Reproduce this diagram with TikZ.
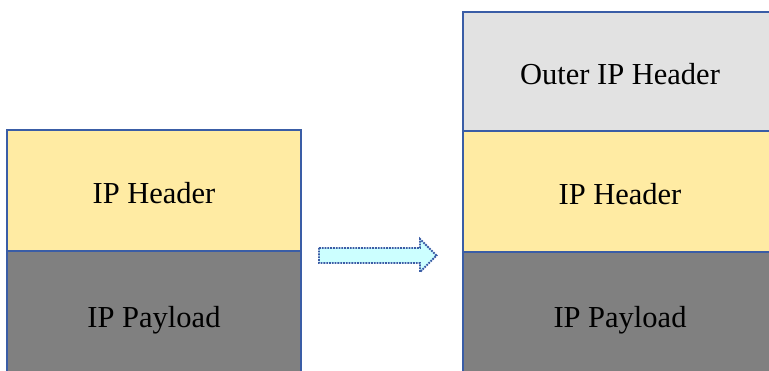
\documentclass[tikz,border=0pt]{standalone}
\usepackage{fontspec}
\setmainfont{Liberation Serif}
\definecolor{hdr}{HTML}{FFEBA3}
\definecolor{outer}{HTML}{E2E2E2}
\definecolor{pay}{HTML}{808080}
\definecolor{edge}{HTML}{3A5DA6}
\definecolor{arrfill}{HTML}{CCFFFF}
\begin{document}
\begin{tikzpicture}[x=1pt,y=-1pt,
  layer/.style={draw=edge, line width=1.6pt, inner sep=0pt, outer sep=0pt,
    font=\fontsize{30.5}{34}\selectfont, text=black, text height=27pt, text depth=0pt}]
\useasboundingbox (0,0) rectangle (769,371);
\clip (0,0) rectangle (769,371);
% left stack
\node[layer, fill=hdr, minimum width=294, minimum height=121] (lh) at (154,190.5) {IP Header};
\node[layer, fill=pay, minimum width=294, minimum height=126] (lp) at (154,314) {IP Payload};
% right stack
\node[layer, fill=outer, minimum width=314, minimum height=119] (ro) at (620,71.5) {Outer IP Header};
\node[layer, fill=hdr, minimum width=314, minimum height=121] (rh) at (620,191.5) {IP Header};
\node[layer, fill=pay, minimum width=314, minimum height=125] (rp) at (620,314.5) {IP Payload};
% arrow
\draw[draw=edge, line width=1.8pt, densely dotted, fill=arrfill, line join=miter]
  (319,248) -- (420,248) -- (420,239) -- (436.5,255.5) -- (420,272) -- (420,263) -- (319,263) -- cycle;
\end{tikzpicture}
\end{document}
